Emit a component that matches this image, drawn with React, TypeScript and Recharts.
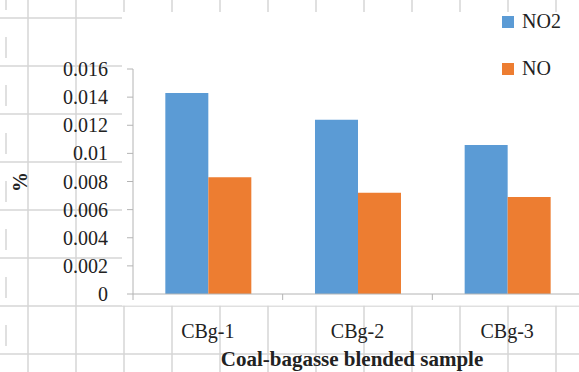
import { Bar, BarChart, Legend, XAxis, YAxis } from "recharts";

const samples = ["CBg-1", "CBg-2", "CBg-3"];
const no2Values = [0.0143, 0.0124, 0.0106];
const noValues = [0.0083, 0.0072, 0.0069];
const yTicks = [0, 0.002, 0.004, 0.006, 0.008, 0.01, 0.012, 0.014, 0.016];

const data = samples.map((name, i) => ({ name, NO2: no2Values[i], NO: noValues[i] }));

const font = "'Liberation Serif', 'Times New Roman', serif";
const axisColor = "#b4b4b4";
const gridColor = "#d6d6d6";
const textColor = "#222";

// spreadsheet cells showing behind the chart
const cellCols = Array.from({ length: 12 }, (_, k) => 28 + 48 * k);
const cellRows = Array.from({ length: 8 }, (_, k) => 18 + 48 * k);

function SheetBackground() {
  return (
    <svg width={579} height={372} style={{ position: "absolute", left: 0, top: 0 }}>
      <rect x={0} y={0} width={579} height={372} fill="#fff" />
      {cellCols.map((x) => (
        <line key={"c" + x} x1={x} x2={x} y1={0} y2={372} stroke={gridColor} strokeWidth={1.5} />
      ))}
      {cellRows.map((y) => (
        <line key={"r" + y} x1={0} x2={579} y1={y} y2={y} stroke={gridColor} strokeWidth={1.5} />
      ))}
      <line x1={6} x2={6} y1={0} y2={372} stroke={gridColor} strokeWidth={1.5} strokeDasharray="21 27" strokeDashoffset={11} />
      <rect x={122} y={12} width={457} height={293.5} fill="#fff" />
    </svg>
  );
}

function XTick(props: any) {
  const { x, y, payload } = props;
  const edge = x - (payload.offset ?? 74.8);
  return (
    <g>
      <line x1={edge} x2={edge} y1={y - 30} y2={y - 24} stroke={axisColor} />
      <text x={x} y={y} dy="0.71em" textAnchor="middle" fontFamily={font} fontSize={20} fill={textColor}>
        {payload.value}
      </text>
    </g>
  );
}

function LegendList(props: any) {
  const items = props.payload ?? [];
  return (
    <div style={{ fontFamily: font, fontSize: 20, color: textColor }}>
      {items.map((item: any) => (
        <div key={item.value} style={{ display: "flex", alignItems: "center", height: 47 }}>
          <span style={{ width: 12, height: 12, background: item.color, marginRight: 8, display: "inline-block" }} />
          {item.value}
        </div>
      ))}
    </div>
  );
}

export default function App() {
  return (
    <div style={{ position: "absolute", left: 0, top: 0, width: 579, height: 372, overflow: "hidden" }}>
      <SheetBackground />
      <div style={{ position: "absolute", left: 0, top: 0 }}>
        <BarChart
          width={585}
          height={372}
          data={data}
          margin={{ top: 69, right: 3, bottom: 18, left: 73 }}
          barCategoryGap="21.6%"
          barGap={0}
        >
          <XAxis
            dataKey="name"
            height={60}
            axisLine={{ stroke: axisColor }}
            tickLine={false}
            tickSize={0}
            tickMargin={30}
            tick={<XTick />}
            interval={0}
          />
          <YAxis
            width={60}
            domain={[0, 0.016]}
            ticks={yTicks}
            interval={0}
            axisLine={{ stroke: axisColor }}
            tickLine={{ stroke: axisColor }}
            tickSize={6}
            tickMargin={19}
            tick={{ fill: textColor, fontSize: 20, fontFamily: font }}
            tickFormatter={(v: number) => String(v)}
          />
          <Legend
            layout="vertical"
            align="center"
            verticalAlign="middle"
            itemSorter={null as any}
            content={<LegendList />}
            wrapperStyle={{ position: "absolute", left: 502, top: -2, width: 80 }}
          />
          <Bar dataKey="NO2" fill="#5b9bd5" isAnimationActive={false} />
          <Bar dataKey="NO" fill="#ed7d31" isAnimationActive={false} />
        </BarChart>
      </div>
      <svg width={579} height={372} style={{ position: "absolute", left: 0, top: 0, pointerEvents: "none" }}>
        <text transform="translate(27,182) rotate(-90)" textAnchor="middle" fontFamily={font} fontSize={20} fontWeight="bold" fill={textColor}>
          %
        </text>
        <text x={352} y={366} textAnchor="middle" fontFamily={font} fontSize={21} fontWeight="bold" fill={textColor}>
          Coal-bagasse blended sample
        </text>
      </svg>
    </div>
  );
}
